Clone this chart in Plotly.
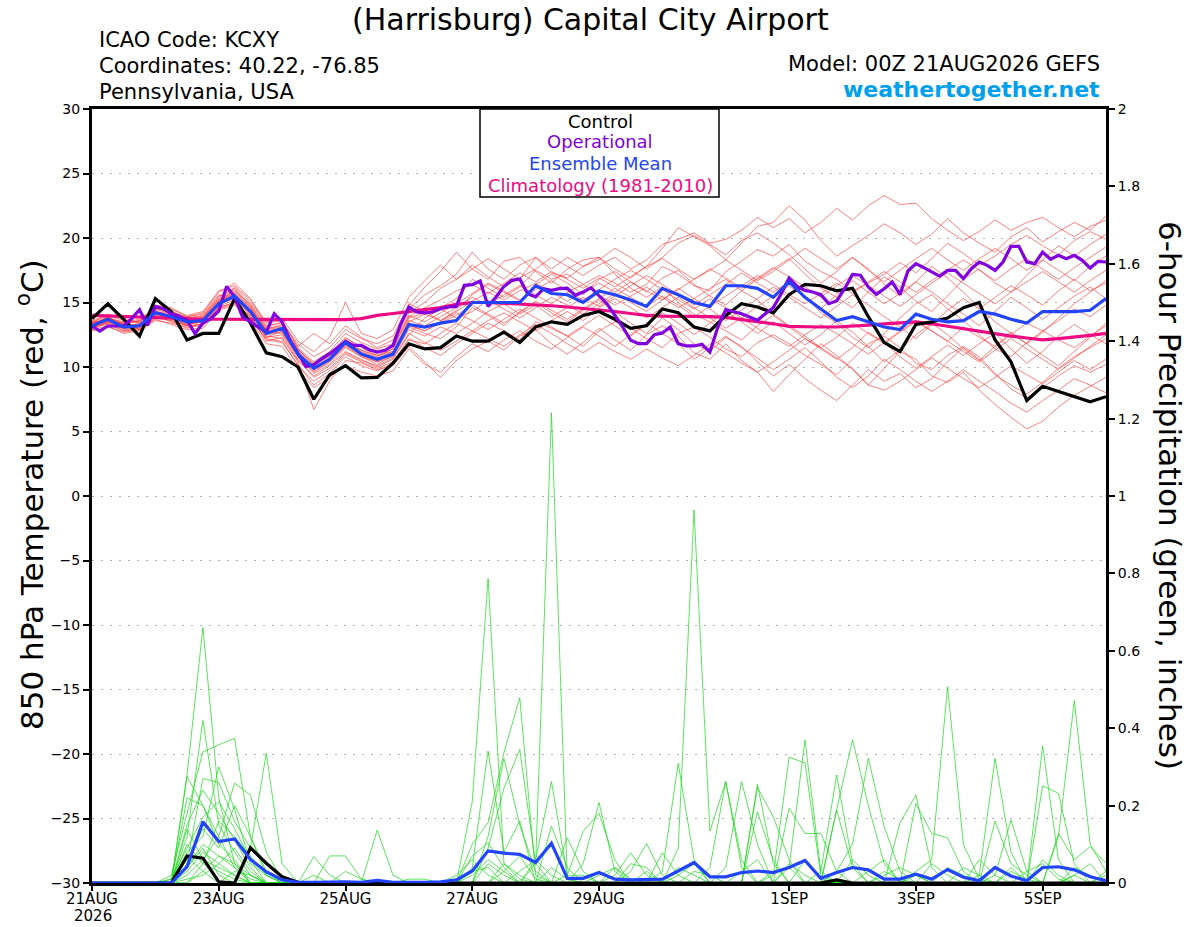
import pandas as pd
import plotly.graph_objects as go

# ---------------- data ----------------
start = pd.Timestamp("2026-08-21 00:00")
times6 = [start + pd.Timedelta(hours=6 * i) for i in range(65)]
times3 = [start + pd.Timedelta(hours=3 * j) for j in range(129)]

tick_dates = ["2026-08-21", "2026-08-23", "2026-08-25", "2026-08-27",
              "2026-08-29", "2026-09-01", "2026-09-03", "2026-09-05"]
tick_labels = ["21AUG", "23AUG", "25AUG", "27AUG", "29AUG", "1SEP", "3SEP", "5SEP"]
year_label = "2026"
temp_ticks = [-30, -25, -20, -15, -10, -5, 0, 5, 10, 15, 20, 25, 30]
precip_ticks = [0, 0.2, 0.4, 0.6, 0.8, 1.0, 1.2, 1.4, 1.6, 1.8, 2.0]
precip_tick_labels = ["0", "0.2", "0.4", "0.6", "0.8", "1", "1.2", "1.4", "1.6", "1.8", "2"]

# 850 hPa temperature, control (6-hourly)
control_temp = [13.75, 14.9, 13.7, 12.4, 15.3, 14.3, 12.1, 12.6, 12.6, 15.3, 13.4, 11.1, 10.8, 10.0, 7.5, 9.4,
                10.1, 9.15, 9.2, 10.3, 11.8, 11.4, 11.5,
                12.4, 12.0, 12.0, 12.7, 11.9, 13.1, 13.5, 13.3, 14.0, 14.3, 13.7, 13.0, 13.2, 14.5, 14.2, 13.1,
                12.8, 14.0, 14.9, 14.65, 14.2,
                15.6, 16.4, 16.3, 15.9, 16.1, 13.9, 11.9, 11.2, 13.3, 13.5, 13.8, 14.6, 15.0, 12.1, 10.4, 7.4,
                8.5, 8.1, 7.7, 7.3, 7.7]

# ensemble mean temperature (6-hourly)
mean_temp = [13.2, 13.7, 13.1, 13.2, 14.2, 13.9, 13.5, 13.6, 14.9, 15.5, 14.3, 12.6, 13.0, 11.0, 9.9, 10.6,
             11.9, 11.0, 10.6, 11.0, 13.3, 13.1, 13.4,
             13.6, 15.0, 15.0, 15.0, 15.0, 16.3, 15.7, 15.6, 15.0, 15.9, 15.6, 15.2, 14.7, 16.1, 15.6, 15.0,
             14.7, 16.3, 16.3, 16.1, 15.4,
             16.6, 15.4, 14.5, 13.6, 13.9, 13.5, 13.1, 12.9, 14.1, 13.7, 13.5, 13.6, 14.3, 14.1, 13.7, 13.4,
             14.3, 14.3, 14.3, 14.4, 15.3]

# climatology (1981-2010)
clim_temp = [14.0, 13.95, 13.9, 13.85, 13.8, 13.75, 13.72, 13.7, 13.7, 13.7, 13.7, 13.7, 13.7, 13.68, 13.66, 13.65,
             13.67, 13.75, 14.0, 14.15, 14.3, 14.45, 14.6, 14.85, 15.0, 15.0, 14.95, 14.9, 14.85, 14.75, 14.65,
             14.55, 14.45, 14.3, 14.15, 14.0, 13.95, 13.95, 13.9, 13.9, 13.85, 13.7, 13.5, 13.35, 13.15,
             13.1, 13.1, 13.1, 13.15, 13.25, 13.35, 13.45, 13.5, 13.35, 13.15, 13.0, 12.8, 12.6, 12.4, 12.25,
             12.1, 12.2, 12.3, 12.45, 12.6]

# operational run temperature (3-hourly)
oper_temp = [13.18, 12.79, 13.18, 13.15, 13.18, 13.75, 14.44, 13.23, 14.70, 14.52,
             14.13, 13.93, 13.62, 12.58, 13.41, 13.75, 14.34, 16.25, 15.43, 13.88,
             13.49, 13.10, 12.71, 14.13, 13.49, 12.07, 11.03, 10.05, 10.18, 10.65,
             11.03, 11.55, 11.99, 11.68, 11.68, 11.34, 11.16, 11.29, 11.68, 13.36,
             14.65, 14.26, 14.19, 14.26, 14.52,
             14.65, 14.70, 16.33, 16.38, 16.67, 14.70, 15.43, 16.25, 16.72, 16.82,
             15.68, 15.43, 16.07, 15.94, 16.07, 16.12, 15.56, 15.81, 16.15, 15.56,
             14.91, 14.01, 13.10, 12.07, 11.81, 11.81, 12.51, 12.64, 13.10, 11.81,
             11.63, 11.63, 11.76, 11.16, 13.10, 14.44, 14.31, 14.13, 13.88, 13.62,
             14.13, 14.60,
             15.68, 16.90, 16.25, 15.94, 15.81, 15.61, 14.91, 15.12, 16.07, 17.18,
             17.11, 16.20, 15.63, 16.07, 16.59, 15.63, 17.44, 18.01, 17.70, 17.36,
             17.05, 17.49, 17.49, 16.85, 17.62, 18.14, 17.88, 17.49, 18.14, 19.35,
             19.35, 18.14, 18.01, 18.91, 18.35, 18.66, 18.40, 18.66, 18.27, 17.67,
             18.19, 18.14]

# ensemble members, temperature (6-hourly)
temp_m01 = [13.0, 13.4, 13.0, 13.3, 14.0, 13.8, 13.2, 13.8, 15.2, 15.9,
            14.6, 12.8, 12.6, 10.8, 9.5, 10.2, 11.5, 10.8, 10.2, 10.9,
            13.8, 14.2, 14.6, 15.3, 16.8, 16.1, 15.4, 16.2, 17.5, 16.8, 17.2, 16.4,
            17.1, 16.5, 15.8, 16.4, 17.8, 17.2, 16.3, 15.9, 17.4, 18.2, 19.1, 18.6,
            19.5, 18.2, 17.4, 16.8, 15.9, 16.5, 17.2, 18.1, 17.3, 18.4, 19.6,
            18.8, 17.9, 18.6, 19.5, 20.2, 19.4, 18.7, 19.8, 20.5, 19.9]
temp_m02 = [13.5, 13.9, 13.3, 12.9, 13.8, 14.2, 13.9, 14.1, 15.6, 15.1,
            13.8, 12.1, 11.9, 10.2, 8.6, 9.5, 10.8, 10.1, 9.7, 10.3,
            12.2, 11.5, 10.9, 11.8, 12.6, 13.4, 12.8, 12.1, 13.5, 13.0, 12.4, 11.6,
            12.8, 13.5, 13.0, 12.2, 11.5, 12.6, 13.1, 12.3, 11.4, 10.8, 11.9, 12.5,
            11.8, 10.9, 10.2, 9.4, 10.6, 11.8, 12.4, 11.5, 10.3, 9.8, 10.9,
            11.6, 10.8, 9.5, 8.3, 7.6, 8.4, 9.3, 10.1, 9.6, 10.2]
temp_m03 = [13.1, 13.6, 13.4, 13.5, 14.5, 14.1, 13.6, 13.4, 14.8, 16.2,
            15.0, 13.4, 13.6, 11.5, 10.4, 11.2, 12.6, 11.9, 11.4, 11.8,
            14.5, 15.6, 16.3, 17.2, 18.9, 17.6, 16.8, 17.9, 18.5, 17.3, 16.9, 17.8,
            18.5, 17.6, 16.9, 17.8, 19.2, 20.8, 20.1, 19.4, 18.3, 19.6, 20.9, 21.2,
            22.5, 21.4, 19.8, 18.6, 19.4, 20.2, 21.1, 20.4, 19.5, 20.3, 21.5,
            20.4, 19.6, 18.9, 20.1, 20.8, 19.7, 20.5, 21.2, 20.6, 21.7]
temp_m04 = [12.9, 13.2, 12.6, 12.8, 13.6, 13.4, 13.1, 13.2, 14.6, 15.0,
            13.9, 12.4, 12.2, 10.4, 6.7, 8.9, 10.5, 10.3, 9.8, 10.1,
            11.6, 10.4, 9.2, 10.5, 11.4, 12.0, 11.3, 12.4, 12.9, 11.8, 11.0, 11.9,
            13.0, 12.1, 11.3, 12.5, 13.2, 12.4, 11.1, 10.6, 11.8, 10.5, 9.6, 8.1,
            9.4, 10.6, 11.8, 10.9, 9.8, 8.6, 9.9, 11.2, 10.6, 9.3, 8.8,
            9.6, 8.2, 7.1, 6.1, 5.2, 5.8, 6.9, 7.8, 8.5, 9.2]
temp_m05 = [13.6, 14.1, 13.8, 13.4, 14.8, 14.6, 13.9, 14.2, 15.8, 16.5,
            15.3, 13.2, 13.4, 11.8, 10.8, 11.5, 12.9, 12.2, 11.8, 12.4,
            14.9, 14.3, 13.6, 14.4, 15.6, 16.4, 15.8, 15.1, 16.4, 17.2, 16.5, 15.6,
            16.8, 17.4, 16.6, 15.8, 16.9, 17.5, 16.4, 15.5, 14.8, 15.9, 16.8, 17.6,
            18.4, 17.2, 16.1, 15.4, 14.6, 15.8, 17.0, 16.2, 15.1, 14.3, 15.5,
            16.8, 17.6, 16.5, 15.8, 17.1, 18.3, 17.5, 16.7, 17.8, 18.6]
temp_m06 = [13.3, 13.5, 12.9, 13.0, 14.1, 13.7, 13.3, 13.5, 14.9, 15.3,
            14.1, 12.6, 12.9, 11.2, 10.1, 10.9, 11.8, 11.3, 10.9, 11.2,
            13.1, 12.6, 12.2, 13.1, 14.6, 14.0, 13.2, 14.3, 15.0, 14.2, 13.5, 14.4,
            15.2, 14.3, 13.4, 12.6, 13.8, 12.9, 11.8, 11.2, 12.3, 11.6, 10.4, 9.3,
            10.2, 9.1, 8.2, 7.4, 8.6, 9.8, 8.9, 9.5, 8.4, 9.1, 10.4,
            11.5, 10.6, 9.4, 8.6, 7.9, 8.8, 9.9, 10.8, 11.5, 12.2]
temp_m07 = [13.0, 13.8, 13.5, 13.7, 14.6, 14.4, 13.8, 13.9, 15.4, 16.0,
            14.8, 13.0, 13.2, 11.4, 10.2, 10.8, 12.2, 11.6, 11.1, 11.6,
            14.2, 15.0, 16.1, 16.8, 17.9, 17.0, 16.2, 16.9, 17.6, 18.5, 17.8, 17.1,
            17.9, 18.5, 17.6, 18.3, 19.5, 19.9, 20.4, 19.6, 19.9, 20.6, 21.6, 20.8,
            21.5, 20.4, 21.2, 22.3, 21.4, 22.5, 23.3, 22.6, 22.7, 21.5, 20.6,
            19.8, 20.5, 21.4, 20.6, 21.2, 21.6, 20.8, 20.1, 20.9, 21.4]
temp_m08 = [13.4, 13.7, 13.2, 13.1, 14.3, 14.0, 13.6, 13.7, 15.1, 15.7,
            14.5, 12.9, 13.1, 11.1, 9.9, 10.7, 12.0, 11.2, 10.7, 11.2,
            13.6, 13.2, 13.9, 14.6, 15.4, 14.8, 15.6, 16.3, 15.6, 14.9, 15.8, 16.4,
            15.6, 14.8, 15.5, 16.2, 15.4, 14.6, 15.3, 16.1, 16.8, 15.9, 15.2, 14.1,
            13.2, 12.4, 11.5, 12.3, 13.4, 12.6, 11.8, 12.7, 13.5, 12.8, 12.0,
            13.1, 12.3, 11.6, 12.5, 13.4, 12.8, 12.1, 11.5, 12.4, 13.2]
temp_m09 = [13.2, 13.9, 13.1, 13.4, 14.4, 13.9, 13.4, 13.7, 15.0, 15.4,
            14.2, 12.3, 12.8, 10.9, 9.6, 10.4, 11.6, 10.8, 10.4, 10.8,
            12.9, 12.4, 13.1, 12.6, 13.4, 14.3, 14.9, 14.1, 14.8, 13.9, 14.6, 15.4,
            14.7, 15.5, 16.3, 17.1, 16.4, 15.6, 14.8, 15.6, 16.4, 17.3, 16.5, 15.8,
            16.6, 15.5, 14.2, 13.4, 12.3, 11.5, 12.6, 13.8, 14.9, 15.6, 14.5,
            13.6, 12.5, 11.4, 10.8, 11.9, 12.8, 13.6, 14.5, 13.9, 14.8]
temp_m10 = [13.5, 13.6, 13.4, 13.0, 14.2, 14.3, 13.7, 13.9, 15.3, 15.8,
            14.9, 13.1, 13.5, 11.6, 12.6, 11.8, 13.2, 12.3, 11.5, 12.1,
            14.8, 16.2, 17.4, 18.9, 17.6, 16.8, 18.2, 18.5, 17.4, 16.5, 17.6, 18.3,
            18.5, 17.2, 16.1, 15.4, 16.2, 15.0, 14.1, 13.5, 12.8, 12.1, 13.2, 14.0,
            13.1, 12.2, 11.4, 10.6, 11.5, 12.7, 11.9, 10.8, 9.9, 10.8, 11.7,
            10.9, 11.8, 12.6, 11.4, 10.3, 11.2, 12.4, 13.3, 12.5, 11.8]
temp_m11 = [13.1, 13.3, 12.8, 13.2, 13.9, 13.6, 13.2, 13.3, 14.7, 15.2,
            14.0, 12.0, 12.3, 10.5, 9.3, 10.1, 11.2, 10.6, 10.0, 10.6,
            12.5, 13.8, 14.5, 13.8, 14.3, 15.2, 14.5, 13.8, 14.6, 15.4, 14.8, 14.1,
            14.9, 15.7, 15.0, 14.3, 15.2, 16.1, 15.3, 14.5, 13.6, 14.4, 15.3, 16.2,
            15.4, 14.6, 13.8, 14.7, 15.6, 14.8, 13.9, 13.1, 12.2, 13.3, 14.4,
            15.3, 14.5, 15.4, 16.3, 15.6, 14.8, 15.9, 16.8, 15.9, 16.5]
temp_m12 = [13.4, 13.8, 13.0, 13.1, 14.0, 13.5, 13.0, 13.4, 14.5, 14.9,
            13.6, 11.8, 11.6, 9.8, 8.4, 9.2, 10.1, 9.6, 9.3, 9.7,
            11.4, 10.2, 9.6, 10.8, 11.8, 11.2, 12.1, 12.8, 12.0, 11.4, 12.3, 13.1,
            12.4, 11.6, 12.5, 13.4, 12.6, 11.8, 10.6, 11.5, 12.4, 11.5, 10.7, 9.8,
            10.6, 11.5, 10.4, 9.2, 8.4, 9.3, 10.6, 9.8, 8.9, 8.1, 8.9,
            9.8, 8.9, 8.1, 7.2, 6.5, 7.4, 8.2, 9.1, 8.6, 8.0]
temp_m13 = [13.0, 13.5, 13.3, 13.6, 14.6, 14.2, 13.7, 13.5, 15.0, 15.6,
            14.4, 12.7, 13.0, 11.3, 10.3, 11.0, 12.3, 11.5, 10.9, 11.4,
            13.9, 14.6, 15.2, 15.9, 16.4, 15.7, 16.5, 17.3, 16.6, 17.4, 16.8, 16.1,
            16.9, 16.2, 17.0, 17.8, 18.4, 17.6, 16.8, 17.5, 18.3, 17.5, 16.7, 17.4,
            18.3, 19.2, 18.4, 17.6, 18.5, 17.5, 16.6, 17.5, 18.4, 19.2, 18.3,
            17.5, 18.4, 19.2, 18.4, 17.5, 18.3, 19.4, 18.6, 19.5, 20.3]
temp_m14 = [13.3, 13.7, 13.2, 13.3, 14.3, 13.9, 13.5, 13.6, 15.1, 15.5,
            14.3, 12.5, 12.7, 10.8, 9.7, 10.4, 11.7, 11.0, 10.5, 11.0,
            13.2, 12.8, 13.5, 14.2, 13.6, 12.9, 13.7, 14.5, 13.8, 13.1, 12.4, 13.2,
            14.0, 13.2, 12.4, 13.3, 14.2, 13.4, 12.5, 13.4, 14.3, 13.5, 12.6, 13.5,
            12.6, 11.7, 12.5, 13.6, 12.7, 11.6, 10.4, 11.3, 12.5, 13.4, 12.5,
            11.4, 10.5, 11.6, 12.7, 11.8, 10.9, 10.1, 11.2, 12.3, 13.4]
temp_m15 = [13.5, 14.0, 13.6, 13.5, 14.7, 14.5, 14.0, 14.3, 15.9, 16.3,
            15.2, 13.5, 13.8, 12.0, 11.2, 12.3, 15.0, 12.6, 12.2, 12.9,
            15.4, 16.7, 17.9, 16.8, 17.6, 18.4, 17.6, 16.8, 18.5, 17.6, 18.5, 17.8,
            18.3, 19.2, 18.5, 17.6, 18.5, 19.6, 20.2, 19.5, 18.7, 19.8, 20.4, 19.6,
            18.7, 17.6, 16.5, 17.4, 18.5, 17.6, 16.4, 15.5, 16.6, 17.8, 16.9,
            15.8, 14.6, 13.5, 12.6, 11.8, 12.7, 13.8, 14.9, 15.8, 16.7]
temp_m16 = [12.8, 13.1, 12.7, 12.9, 13.7, 13.3, 12.9, 13.0, 14.4, 14.8,
            13.7, 12.2, 12.0, 10.1, 8.9, 9.7, 11.0, 10.4, 9.9, 10.4,
            12.1, 11.8, 12.6, 13.4, 12.8, 13.6, 14.2, 13.5, 12.8, 13.6, 14.3, 13.6,
            14.6, 15.3, 14.6, 13.8, 14.6, 15.4, 14.6, 13.8, 13.0, 13.8, 14.7, 15.5,
            16.3, 15.4, 14.5, 15.6, 16.7, 15.8, 14.9, 15.7, 16.6, 15.8, 14.9,
            14.1, 13.2, 14.3, 15.4, 14.6, 13.7, 14.6, 15.5, 16.2, 15.3]
temp_m17 = [13.2, 13.4, 12.8, 12.9, 13.8, 13.6, 13.2, 13.3, 14.6, 15.0,
            13.9, 12.3, 12.5, 10.6, 9.2, 9.9, 11.1, 10.5, 10.1, 10.7,
            12.6, 11.9, 11.3, 12.0, 12.8, 12.2, 11.6, 12.5, 13.3, 12.6, 11.8, 11.1,
            11.9, 11.2, 10.6, 11.4, 10.7, 10.1, 10.9, 11.8, 11.1, 10.3, 9.6, 10.4,
            11.3, 12.2, 11.5, 10.7, 9.9, 8.6, 8.2, 8.9, 9.8, 10.7, 9.9,
            9.1, 8.4, 9.2, 10.1, 9.4, 8.7, 9.6, 10.5, 9.8, 10.6]
temp_m18 = [13.4, 13.6, 13.3, 13.2, 14.1, 14.0, 13.6, 13.8, 15.2, 15.7,
            14.6, 12.8, 13.0, 11.0, 10.0, 10.6, 11.9, 11.1, 10.6, 11.1,
            13.5, 14.1, 13.6, 14.3, 15.1, 15.8, 15.2, 15.9, 16.5, 15.8, 15.1, 15.8,
            16.5, 15.8, 16.6, 15.9, 15.2, 16.0, 16.8, 17.6, 16.9, 16.1, 16.9, 17.7,
            17.0, 16.2, 15.4, 16.3, 17.1, 16.3, 15.5, 14.7, 15.6, 16.5, 17.3,
            16.5, 15.7, 14.9, 15.8, 16.6, 17.4, 16.6, 15.8, 16.7, 17.5]
temp_m19 = [13.1, 13.5, 13.2, 13.2, 14.2, 13.8, 13.3, 13.5, 14.9, 15.4,
            14.2, 12.6, 12.9, 11.0, 9.8, 10.5, 11.7, 10.9, 10.4, 11.0,
            13.3, 12.8, 13.4, 14.0, 14.8, 14.1, 13.4, 14.2, 15.1, 14.4, 13.7, 14.5,
            15.3, 16.1, 15.4, 14.7, 15.5, 14.8, 13.9, 14.7, 15.5, 16.3, 17.1, 16.4,
            15.6, 14.9, 15.7, 16.5, 15.7, 16.6, 17.4, 16.6, 15.8, 16.7, 17.5,
            18.3, 17.5, 16.7, 17.6, 18.4, 17.6, 16.8, 17.7, 18.5, 19.3]
temp_m20 = [13.3, 13.8, 13.4, 13.6, 14.5, 14.3, 13.8, 14.0, 15.5, 16.1,
            14.7, 12.9, 13.3, 11.4, 10.1, 10.9, 12.1, 11.3, 10.8, 11.4,
            14.0, 13.5, 14.2, 14.9, 15.7, 16.5, 15.9, 15.2, 16.0, 16.7, 15.9, 15.2,
            16.0, 16.8, 17.5, 16.8, 16.0, 15.2, 14.5, 15.3, 14.6, 13.8, 13.0, 12.3,
            11.6, 12.5, 13.3, 12.6, 11.8, 11.0, 11.9, 12.8, 13.6, 12.8, 12.0,
            11.2, 10.4, 11.3, 12.2, 11.4, 10.6, 9.8, 10.7, 11.6, 12.5]

# 6-hour precipitation (inches), control and ensemble mean
control_precip = [0, 0, 0, 0, 0, 0, 0.070, 0.064, 0.003, 0.0, 0.091, 0.051, 0.016, 0.002, 0, 0,
                  0, 0, 0, 0, 0, 0, 0, 0, 0, 0, 0, 0, 0, 0, 0, 0,
                  0, 0, 0, 0, 0, 0, 0, 0, 0, 0, 0, 0, 0, 0, 0, 0.008,
                  0, 0, 0, 0, 0, 0, 0, 0, 0, 0, 0, 0, 0, 0, 0, 0, 0]
mean_precip = [0, 0, 0, 0, 0, 0, 0.042, 0.158, 0.107, 0.114, 0.061, 0.029, 0.008, 0.002, 0.002, 0.003,
               0.003, 0.002, 0.007, 0.002, 0.001, 0.002, 0.003, 0.008, 0.031, 0.083, 0.077, 0.074, 0.053,
               0.103, 0.012, 0.012, 0.027, 0.010, 0.008, 0.008, 0.010, 0.031, 0.053, 0.016, 0.016, 0.027,
               0.031, 0.027, 0.040, 0.058, 0.012, 0.027, 0.040, 0.034, 0.010, 0.010, 0.023, 0.010, 0.035,
               0.015, 0.006, 0.040, 0.018, 0.006, 0.040, 0.042, 0.034, 0.016, 0.006]

# ensemble members, precipitation: {6-hour step index: inches}; all other steps are 0
precip_m01 = {6: 0.28, 7: 0.66, 8: 0.22, 9: 0.05, 24: 0.02, 25: 0.06, 26: 0.03, 33: 0.02, 34: 0.078, 35: 0.02,
              44: 0.04, 45: 0.37, 46: 0.03, 52: 0.02, 60: 0.06, 61: 0.02}
precip_m02 = {6: 0.12, 7: 0.42, 8: 0.15, 9: 0.08, 10: 0.02, 24: 0.21, 25: 0.787, 26: 0.05, 27: 0.01, 37: 0.02,
              38: 0.05, 47: 0.03, 48: 0.10, 49: 0.322, 50: 0.146, 51: 0.03, 62: 0.02}
precip_m03 = {5: 0.02, 6: 0.18, 7: 0.339, 8: 0.357, 9: 0.374, 10: 0.12, 11: 0.02, 28: 0.05, 29: 1.215, 30: 0.01,
              41: 0.03, 42: 0.06, 54: 0.04, 55: 0.02}
precip_m04 = {6: 0.275, 7: 0.20, 8: 0.12, 9: 0.258, 10: 0.227, 11: 0.08, 12: 0.01, 24: 0.10, 25: 0.156, 26: 0.337,
              27: 0.479, 28: 0.02, 43: 0.02, 44: 0.325, 45: 0.31, 46: 0.02, 58: 0.03, 59: 0.01}
precip_m05 = {6: 0.05, 7: 0.27, 8: 0.26, 9: 0.16, 10: 0.09, 11: 0.335, 12: 0.05, 37: 0.09, 38: 0.964, 39: 0.134,
              40: 0.262, 41: 0.06, 52: 0.03, 53: 0.06, 54: 0.507, 55: 0.10, 56: 0.01}
precip_m06 = {6: 0.22, 7: 0.20, 8: 0.10, 9: 0.06, 14: 0.068, 15: 0.02, 24: 0.04, 25: 0.341, 26: 0.08, 27: 0.16,
              40: 0.04, 41: 0.262, 42: 0.10, 60: 0.354, 61: 0.06}
precip_m07 = {6: 0.15, 7: 0.24, 8: 0.18, 9: 0.11, 10: 0.04, 15: 0.07, 16: 0.07, 17: 0.01, 25: 0.09, 26: 0.245,
              27: 0.345, 28: 0.05, 36: 0.03, 37: 0.309, 38: 0.06, 47: 0.19, 48: 0.37, 49: 0.20, 50: 0.05}
precip_m08 = {5: 0.01, 6: 0.09, 7: 0.17, 8: 0.21, 9: 0.14, 10: 0.06, 18: 0.137, 19: 0.02, 25: 0.12, 26: 0.322,
              27: 0.15, 28: 0.03, 42: 0.247, 43: 0.171, 44: 0.06, 57: 0.02, 58: 0.163, 59: 0.03}
precip_m09 = {6: 0.08, 7: 0.12, 8: 0.30, 9: 0.19, 10: 0.05, 11: 0.02, 28: 0.06, 29: 0.262, 30: 0.02, 31: 0.02,
              39: 0.04, 40: 0.262, 41: 0.04, 56: 0.02, 57: 0.322, 58: 0.08, 64: 0.02}
precip_m10 = {6: 0.06, 7: 0.14, 8: 0.09, 9: 0.20, 10: 0.12, 11: 0.03, 29: 0.147, 30: 0.04, 34: 0.03, 35: 0.102,
              36: 0.02, 46: 0.03, 47: 0.279, 48: 0.05, 61: 0.12, 62: 0.471, 63: 0.10, 64: 0.03}
precip_m11 = {6: 0.10, 7: 0.05, 8: 0.16, 9: 0.12, 10: 0.07, 11: 0.02, 31: 0.05, 32: 0.208, 33: 0.03, 42: 0.255,
              43: 0.05, 51: 0.156, 52: 0.227, 53: 0.04, 60: 0.251, 61: 0.232, 62: 0.05}
precip_m12 = {6: 0.04, 7: 0.10, 8: 0.07, 9: 0.05, 10: 0.02, 30: 0.02, 31: 0.133, 32: 0.18, 33: 0.06, 44: 0.193,
              45: 0.128, 46: 0.128, 47: 0.03, 52: 0.206, 53: 0.128, 54: 0.117, 55: 0.03}
precip_m13 = {6: 0.03, 7: 0.08, 8: 0.05, 9: 0.09, 10: 0.03, 30: 0.117, 31: 0.03, 36: 0.078, 37: 0.02, 42: 0.184,
              43: 0.06, 50: 0.02, 51: 0.04, 52: 0.02, 61: 0.128, 62: 0.06, 63: 0.094, 64: 0.051}
precip_m14 = {6: 0.14, 7: 0.06, 8: 0.04, 9: 0.02, 24: 0.07, 25: 0.104, 26: 0.04, 34: 0.05, 35: 0.04, 47: 0.189,
              48: 0.04, 57: 0.160, 58: 0.05, 59: 0.02}
precip_m15 = {7: 0.03, 8: 0.07, 9: 0.04, 10: 0.01, 16: 0.03, 17: 0.01, 23: 0.02, 24: 0.06, 25: 0.02, 38: 0.03,
              39: 0.02, 49: 0.03, 50: 0.06, 62: 0.04, 63: 0.02}
precip_m16 = {6: 0.02, 7: 0.06, 8: 0.12, 9: 0.04, 26: 0.03, 27: 0.07, 28: 0.01, 33: 0.04, 34: 0.01, 44: 0.05,
              45: 0.02, 55: 0.04, 56: 0.02}
precip_m17 = {6: 0.07, 7: 0.03, 9: 0.03, 10: 0.02, 25: 0.05, 26: 0.02, 29: 0.04, 30: 0.01, 45: 0.06, 46: 0.01,
              53: 0.05, 54: 0.02, 58: 0.04}
precip_m18 = {5: 0.01, 6: 0.04, 7: 0.09, 8: 0.02, 20: 0.01, 21: 0.01, 27: 0.03, 28: 0.06, 29: 0.02, 35: 0.03,
              48: 0.06, 49: 0.02, 59: 0.03, 60: 0.05, 61: 0.01}
precip_m19 = {7: 0.05, 8: 0.03, 9: 0.01, 14: 0.02, 26: 0.05, 27: 0.02, 32: 0.02, 33: 0.04, 43: 0.03, 44: 0.04,
              56: 0.06, 57: 0.02, 64: 0.03}
precip_m20 = {6: 0.01, 7: 0.02, 8: 0.05, 9: 0.02, 24: 0.03, 25: 0.04, 37: 0.04, 38: 0.02, 50: 0.03, 51: 0.01,
              62: 0.02, 63: 0.05}

# ---------------- figure ----------------
temp_members = [temp_m01, temp_m02, temp_m03, temp_m04, temp_m05, temp_m06, temp_m07, temp_m08, temp_m09,
                temp_m10, temp_m11, temp_m12, temp_m13, temp_m14, temp_m15, temp_m16, temp_m17, temp_m18,
                temp_m19, temp_m20]
precip_members = [precip_m01, precip_m02, precip_m03, precip_m04, precip_m05, precip_m06, precip_m07,
                  precip_m08, precip_m09, precip_m10, precip_m11, precip_m12, precip_m13, precip_m14,
                  precip_m15, precip_m16, precip_m17, precip_m18, precip_m19, precip_m20]

RED = "rgba(255,45,45,0.75)"
GREEN = "rgba(25,215,25,0.88)"
BLACK = "#000000"
PURPLE = "#8000e0"
BLUE = "#2244ff"
PINK = "#ee0a82"
FONT = "DejaVu Sans"

fig = go.Figure()

for m in temp_members:
    fig.add_trace(go.Scatter(x=times6, y=m, mode="lines", line=dict(color=RED, width=0.8),
                             hoverinfo="skip", yaxis="y"))

fig.add_trace(go.Scatter(x=times6, y=clim_temp, mode="lines", line=dict(color=PINK, width=3.2), yaxis="y"))
fig.add_trace(go.Scatter(x=times6, y=control_temp, mode="lines", line=dict(color=BLACK, width=3.2), yaxis="y"))
fig.add_trace(go.Scatter(x=times3, y=oper_temp, mode="lines", line=dict(color=PURPLE, width=3.2), yaxis="y"))
fig.add_trace(go.Scatter(x=times6, y=mean_temp, mode="lines", line=dict(color=BLUE, width=3.2), yaxis="y"))

for d in precip_members:
    vals = [d.get(i, 0.0) for i in range(len(times6))]
    fig.add_trace(go.Scatter(x=times6, y=vals, mode="lines", line=dict(color=GREEN, width=0.8),
                             hoverinfo="skip", yaxis="y2"))

fig.add_trace(go.Scatter(x=times6, y=control_precip, mode="lines", line=dict(color=BLACK, width=3.2), yaxis="y2"))
fig.add_trace(go.Scatter(x=times6, y=mean_precip, mode="lines", line=dict(color=BLUE, width=3.2), yaxis="y2"))

L, R, T, B = 92, 94, 109, 44
W, H = 1200, 927
pw, ph = W - L - R, H - T - B


def px(x):
    return (x - L) / pw


def py(y):
    return (H - B - y) / ph


fig.update_layout(
    width=W, height=H,
    margin=dict(l=L, r=R, t=T, b=B, autoexpand=False),
    paper_bgcolor="white", plot_bgcolor="white",
    showlegend=False,
    font=dict(family=FONT, size=14, color="black"),
    xaxis=dict(type="date", range=[times6[0], times6[-1]],
               tickvals=tick_dates, ticktext=tick_labels, automargin=False,
               ticks="outside", ticklen=5, tickwidth=1.5, tickcolor="black", ticklabelstandoff=-5,
               showline=True, linewidth=3, linecolor="black", mirror=True,
               showgrid=False, zeroline=False, tickfont=dict(size=15, family=FONT)),
    yaxis=dict(range=[-30, 30], tickvals=temp_ticks, automargin=False,
               ticks="outside", ticklen=6, tickwidth=1.5, tickcolor="black",
               showline=True, linewidth=3, linecolor="black",
               showgrid=True, gridcolor="#b0b0b0", gridwidth=1, griddash="2px,7px",
               zeroline=False, tickfont=dict(size=14, family=FONT)),
    yaxis2=dict(range=[0, 2], overlaying="y", side="right", automargin=False,
                tickvals=precip_ticks, ticktext=precip_tick_labels,
                ticks="outside", ticklen=6, tickwidth=1.5, tickcolor="black",
                showline=True, linewidth=3, linecolor="black",
                showgrid=False, zeroline=False, tickfont=dict(size=14, family=FONT)),
)

ann = []
ann.append(dict(text="(Harrisburg) Capital City Airport", x=px(590), y=py(19), xref="paper", yref="paper",
                xanchor="center", yanchor="middle", showarrow=False, font=dict(size=30, family=FONT)))
for txt, yy in [("ICAO Code: KCXY", 40), ("Coordinates: 40.22, -76.85", 66), ("Pennsylvania, USA", 92)]:
    ann.append(dict(text=txt, x=px(97), y=py(yy), xref="paper", yref="paper", xanchor="left",
                    yanchor="middle", showarrow=False, font=dict(size=21, family=FONT)))
ann.append(dict(text="Model: 00Z 21AUG2026 GEFS", x=px(1102), y=py(64), xref="paper", yref="paper",
                xanchor="right", yanchor="middle", showarrow=False, font=dict(size=21, family=FONT)))
ann.append(dict(text="<b>weathertogether.net</b>", x=px(1102), y=py(89), xref="paper", yref="paper",
                xanchor="right", yanchor="middle", showarrow=False,
                font=dict(size=22, family=FONT, color="#00a0f0")))
for txt, col, yy in [("Control", BLACK, 121), ("Operational", PURPLE, 142),
                     ("Ensemble Mean", BLUE, 163), ("Climatology (1981-2010)", PINK, 185)]:
    ann.append(dict(text=txt, x=px(600), y=py(yy), xref="paper", yref="paper", xanchor="center",
                    yanchor="middle", showarrow=False, font=dict(size=18, family=FONT, color=col)))
ann.append(dict(text=year_label, x=px(93), y=py(916), xref="paper", yref="paper", xanchor="center",
                yanchor="middle", showarrow=False, font=dict(size=15, family=FONT)))
ann.append(dict(text="850 hPa Temperature (red, <sup>o</sup>C)", x=px(30), y=py(495), xref="paper",
                yref="paper", xanchor="center", yanchor="middle", textangle=-90, showarrow=False,
                font=dict(size=31, family=FONT)))
ann.append(dict(text="6-hour Precipitation (green, inches)", x=px(1170), y=py(495), xref="paper",
                yref="paper", xanchor="center", yanchor="middle", textangle=90, showarrow=False,
                font=dict(size=31, family=FONT)))
fig.update_layout(annotations=ann)

fig.add_shape(type="rect", xref="paper", yref="paper", x0=px(480), x1=px(719), y0=py(197), y1=py(109),
              line=dict(color="black", width=1.5), fillcolor="white", layer="above")

fig.write_html("out.html", config={"displayModeBar": False},
               post_script="document.body.style.margin='0';document.body.style.overflow='hidden';")
